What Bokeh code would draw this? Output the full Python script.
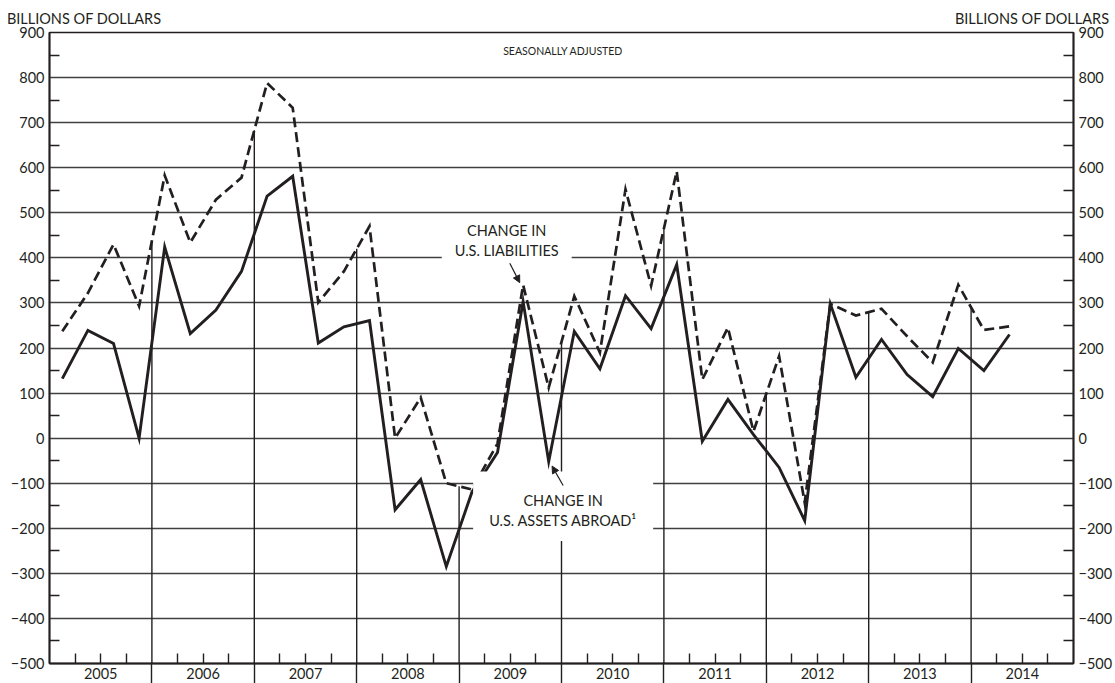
import numpy as np
from bokeh.plotting import figure
from bokeh.models import Range1d, LinearAxis, FixedTicker, Label, Arrow, NormalHead
from bokeh.embed import file_html
from bokeh.resources import INLINE

# ---------------- data ----------------
start_year = 2005
years = [2005, 2006, 2007, 2008, 2009, 2010, 2011, 2012, 2013, 2014]
# quarterly, 2005Q1 .. 2014Q2 (billions of dollars, seasonally adjusted)
assets = [132, 239, 210, 0,
          424, 232, 284, 370,
          537, 581, 211, 247,
          261, -159, -92, -285,
          -120, -32, 303, -52,
          237, 154, 316, 243,
          385, -7, 86, 8,
          -65, -183, 298, 135,
          219, 141, 92, 199,
          150, 230]
liabilities = [237, 322, 430, 293,
               583, 434, 529, 578,
               788, 733, 301, 370,
               470, 0, 90, -100,
               -114, -12, 340, 112,
               315, 190, 552, 338,
               592, 130, 245, 15,
               182, -143, 298, 272,
               287, 226, 168, 340,
               240, 248]
y_ticks = list(range(-500, 901, 100))
y_minor = list(range(-450, 900, 100))
y_tick_labels = {v: str(v).replace("-", "\u2212") for v in y_ticks}
unit_text = "BILLIONS OF DOLLARS"
note_text = "SEASONALLY ADJUSTED"
liab_text = "CHANGE IN\nU.S. LIABILITIES"
assets_text = "CHANGE IN\nU.S. ASSETS ABROAD\u00b9"

INK = "#231f20"
GRID = "#404040"
FONT = "Lato"

n = len(assets)
xq = start_year + (np.arange(n) + 0.5) / 4.0
boundaries = years[1:]
tops = [max(np.interp(b, xq, assets), np.interp(b, xq, liabilities)) for b in boundaries]
quarter_ticks = [y + k / 4 for y in years for k in (1, 2, 3)]
x_labels = {}
for y in years:
    x_labels[y + 0.25] = ""
    x_labels[y + 0.5] = str(y)
    x_labels[y + 0.75] = ""

# unit captions sit above the left and right value axes
unit_pos = [2005.338, 2014.596]

p = figure(width=1115, height=683,
           x_range=Range1d(years[0], years[-1] + 1), y_range=Range1d(y_ticks[0], y_ticks[-1]),
           output_backend="svg", toolbar_location=None,
           min_border_left=49, min_border_right=42, min_border_top=32, min_border_bottom=20)
p.background_fill_color = "white"
p.border_fill_color = "white"
p.outline_line_color = INK
p.outline_line_width = 1.6
p.xgrid.visible = False
p.ygrid.ticker = FixedTicker(ticks=y_ticks)
p.ygrid.grid_line_color = GRID
p.ygrid.grid_line_width = 1.4

bottom_ax = p.below[0]
left_ax = p.left[0]


def style_y(ax):
    ax.ticker = FixedTicker(ticks=y_ticks, minor_ticks=y_minor)
    ax.major_label_overrides = y_tick_labels
    ax.major_tick_in = 0
    ax.major_tick_out = 0
    ax.minor_tick_in = 10
    ax.minor_tick_out = 0
    ax.minor_tick_line_color = INK
    ax.minor_tick_line_width = 1.4
    ax.axis_line_color = INK
    ax.axis_line_width = 1.8
    ax.major_label_standoff = 5
    ax.major_label_text_font = FONT
    ax.major_label_text_font_size = "14.5px"
    ax.major_label_text_color = INK


style_y(left_ax)
right_ax = LinearAxis()
style_y(right_ax)
p.add_layout(right_ax, "right")

# caption axis on top: "BILLIONS OF DOLLARS" at both ends
top_ax = LinearAxis(ticker=FixedTicker(ticks=unit_pos, minor_ticks=[]),
                    major_label_overrides={v: unit_text for v in unit_pos},
                    axis_line_color=None, major_tick_line_color=None, minor_tick_line_color=None,
                    major_tick_in=0, major_tick_out=0, minor_tick_in=0, minor_tick_out=0,
                    major_label_standoff=6, major_label_text_font=FONT,
                    major_label_text_font_size="14.5px", major_label_text_color=INK)
p.add_layout(top_ax, "above")

xa = bottom_ax
xa.ticker = FixedTicker(ticks=quarter_ticks, minor_ticks=boundaries)
xa.major_label_overrides = x_labels
xa.major_label_standoff = -16
xa.major_label_text_font = FONT
xa.major_label_text_font_size = "14.5px"
xa.major_label_text_color = INK
xa.major_tick_in = 10
xa.major_tick_out = 0
xa.major_tick_line_color = INK
xa.major_tick_line_width = 1.4
xa.minor_tick_in = 0
xa.minor_tick_out = 20
xa.minor_tick_line_color = INK
xa.minor_tick_line_width = 1.4
xa.axis_line_color = INK
xa.axis_line_width = 1.8

# year separators, from the baseline up to the upper curve
p.segment(x0=boundaries, y0=[y_ticks[0]] * len(boundaries), x1=boundaries, y1=tops,
          line_color=INK, line_width=1.4)

p.line(xq, liabilities, line_color=INK, line_width=2.7, line_dash="10 5", line_join="miter")
p.line(xq, assets, line_color=INK, line_width=2.9, line_join="miter")

p.add_layout(Label(x=2010.016, y=860, text=note_text, text_align="center", text_baseline="middle",
                   text_font=FONT, text_font_size="10.5px", text_color=INK))

p.add_layout(Label(x=2009.465, y=439, text=liab_text, text_align="center", text_baseline="middle",
                   text_font=FONT, text_font_size="14.5px", text_color=INK,
                   background_fill_color="white",
                   padding=dict(left=13, right=13, top=3, bottom=3)))
p.add_layout(Label(x=2010.016, y=-151, text=assets_text, text_align="center", text_baseline="middle",
                   text_font=FONT, text_font_size="14.5px", text_color=INK,
                   background_fill_color="white",
                   padding=dict(left=16, right=16, top=20, bottom=12)))

p.add_layout(Arrow(end=NormalHead(size=7, fill_color=INK, line_color=INK),
                   x_start=2009.495, y_start=388, x_end=2009.592, y_end=345,
                   line_color=INK, line_width=1.2))
p.add_layout(Arrow(end=NormalHead(size=7, fill_color=INK, line_color=INK),
                   x_start=2010.016, y_start=-105, x_end=2009.908, y_end=-62,
                   line_color=INK, line_width=1.2))

open("out.html", "w").write(file_html(p, INLINE))
